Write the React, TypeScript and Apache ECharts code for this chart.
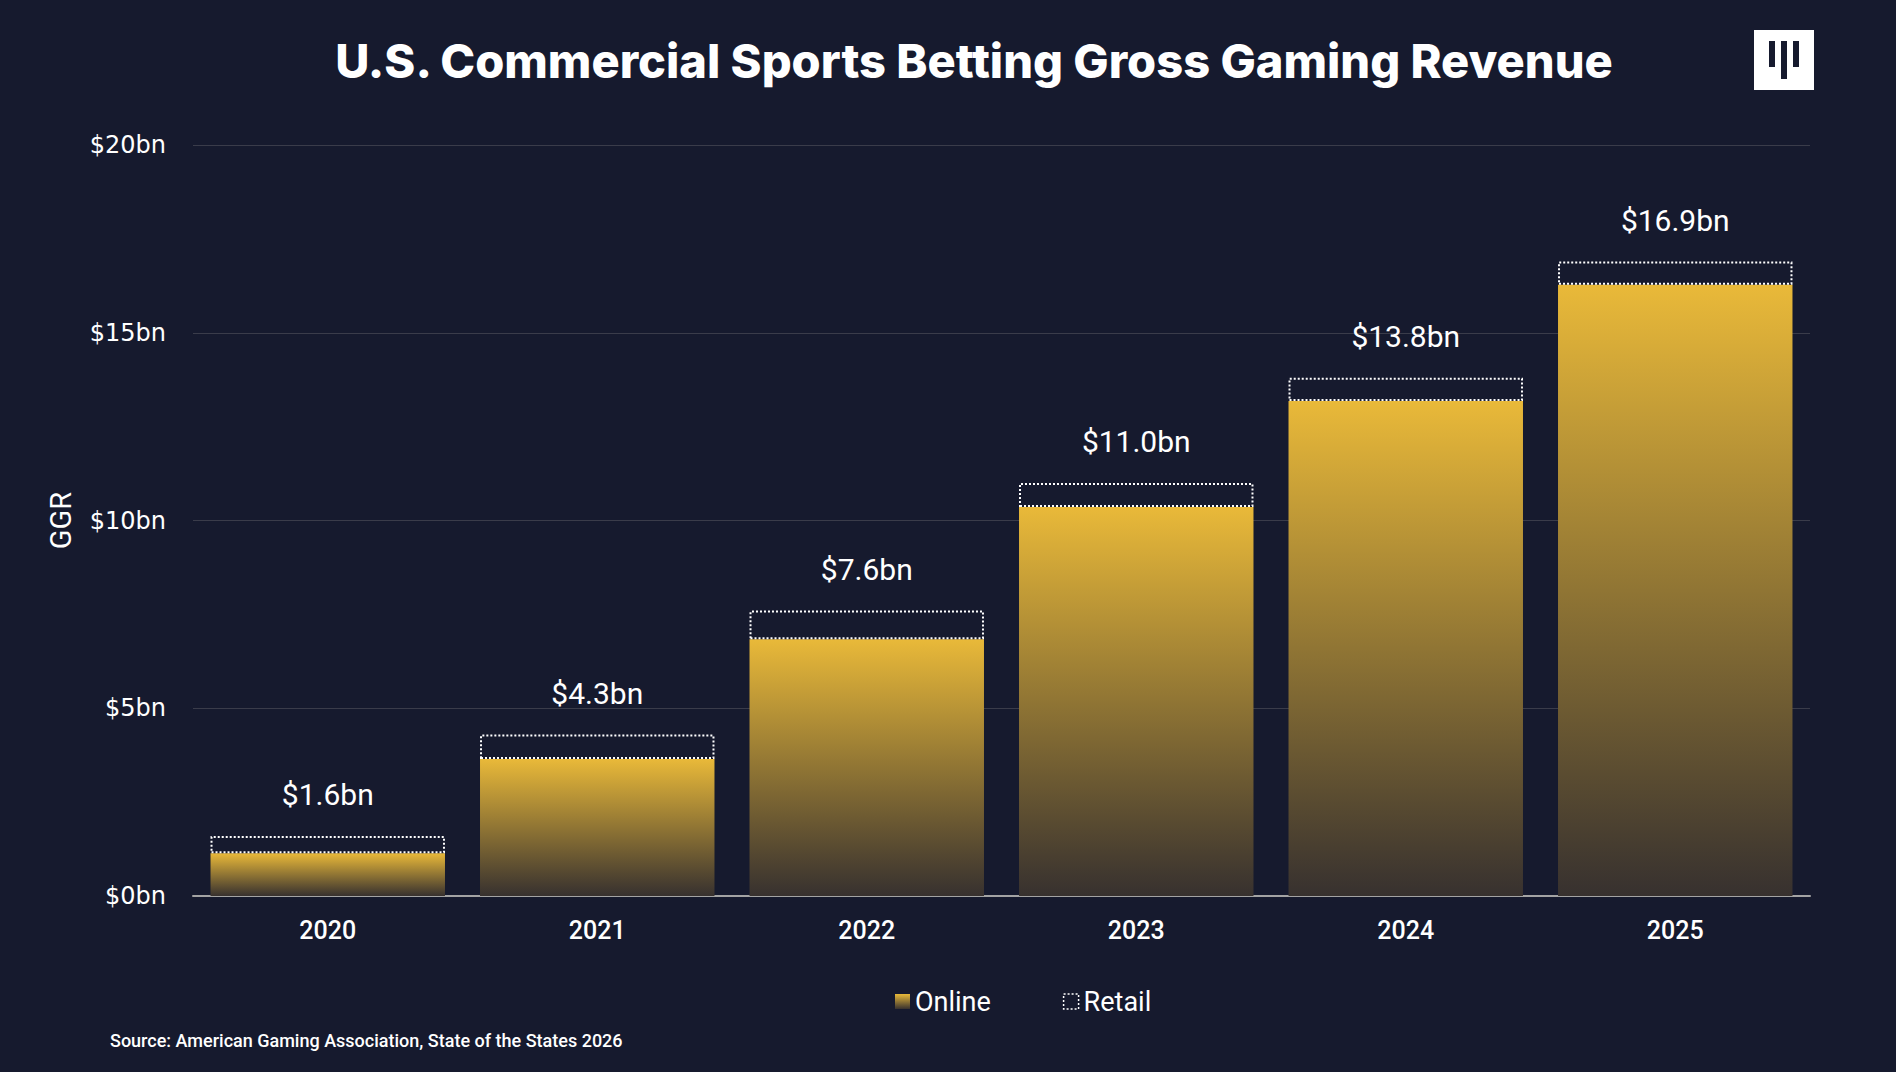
import React, { useEffect, useRef } from "react";
import * as echarts from "echarts";

const years = ["2020", "2021", "2022", "2023", "2024", "2025"];
const online = [1.14, 3.65, 6.84, 10.36, 13.18, 16.28];
const retail = [0.46, 0.65, 0.76, 0.64, 0.62, 0.62];
const yTicks = [0, 5, 10, 15, 20];

const BG = "#161a2e";

export default function App() {
  const ref = useRef<HTMLDivElement>(null);
  useEffect(() => {
    document.body.style.margin = "0";
    const chart = echarts.init(ref.current!, undefined, { renderer: "svg" });
    const totals = online.map((v, i) => v + retail[i]);
    const goldGrad = new echarts.graphic.LinearGradient(0, 0, 0, 1, [
      { offset: 0, color: "#e9b939" },
      { offset: 1, color: "#37312f" },
    ]);
    chart.setOption({
      animation: false,
      backgroundColor: BG,
      textStyle: { fontFamily: "Roboto" },
      graphic: [
        {
          type: "text",
          x: 974,
          y: 60,
          style: {
            text: "U.S. Commercial Sports Betting Gross Gaming Revenue",
            fill: "#ffffff",
            font: "800 47px Inter",
            textAlign: "center",
            textVerticalAlign: "middle",
          },
        },
        {
          type: "rect",
          shape: { x: 1754, y: 30, width: 60, height: 60 },
          style: { fill: "#ffffff" },
        },
        {
          type: "rect",
          shape: { x: 1769, y: 41, width: 6, height: 26 },
          style: { fill: BG },
        },
        {
          type: "rect",
          shape: { x: 1781, y: 41, width: 6, height: 38 },
          style: { fill: BG },
        },
        {
          type: "rect",
          shape: { x: 1793, y: 41, width: 6, height: 26 },
          style: { fill: BG },
        },
        {
          type: "text",
          x: 110,
          y: 1040,
          style: {
            text: "Source: American Gaming Association, State of the States 2026",
            fill: "#ffffff",
            font: "500 18px Roboto",
            textVerticalAlign: "middle",
          },
        },
      ],
      legend: {
        left: 890,
        top: 983,
        itemWidth: 15,
        itemHeight: 15,
        itemGap: 72,
        icon: "rect",
        textStyle: { color: "#ffffff", fontSize: 27, fontFamily: "Roboto" },
        data: [
          { name: "Online" },
          {
            name: "Retail",
            itemStyle: {
              color: "rgba(0,0,0,0)",
              borderColor: "#ffffff",
              borderWidth: 1.5,
              borderType: [2, 2],
            },
          },
        ],
      },
      grid: { left: 193, right: 86, top: 145, bottom: 176 },
      xAxis: {
        type: "category",
        data: years,
        axisLine: { lineStyle: { color: "#a3a3a3", width: 2 } },
        axisTick: { show: false },
        axisLabel: {
          color: "#ffffff",
          fontSize: 25,
          fontWeight: 500,
          margin: 22,
        },
      },
      yAxis: {
        type: "value",
        min: yTicks[0],
        max: yTicks[yTicks.length - 1],
        interval: 5,
        name: "GGR",
        nameLocation: "middle",
        nameGap: 118,
        nameTextStyle: { color: "#ffffff", fontSize: 29, fontFamily: "Roboto" },
        axisLine: { show: false },
        axisTick: { show: false },
        splitLine: { lineStyle: { color: "#3a3c4a", width: 1 } },
        axisLabel: {
          color: "#ffffff",
          fontSize: 24,
          fontWeight: 500,
          fontFamily: "DejaVu Sans",
          margin: 27,
          formatter: (v: number) => `$${v}bn`,
        },
      },
      series: [
        {
          name: "Online",
          type: "bar",
          stack: "ggr",
          barCategoryGap: "13%",
          data: online,
          itemStyle: { color: goldGrad },
        },
        {
          name: "Retail",
          type: "bar",
          stack: "ggr",
          barCategoryGap: "13%",
          data: retail,
          itemStyle: {
            color: "rgba(0,0,0,0)",
            borderColor: "#ffffff",
            borderWidth: 2,
            borderType: [2, 2],
          },
          label: {
            show: true,
            position: "top",
            distance: 26,
            color: "#ffffff",
            fontSize: 30,
            fontFamily: "Roboto",
            formatter: (p: any) => `$${totals[p.dataIndex].toFixed(1)}bn`,
          },
        },
      ],
    });
    return () => chart.dispose();
  }, []);
  return (
    <div
      ref={ref}
      style={{ position: "absolute", left: 0, top: 0, width: 1896, height: 1072 }}
    />
  );
}
